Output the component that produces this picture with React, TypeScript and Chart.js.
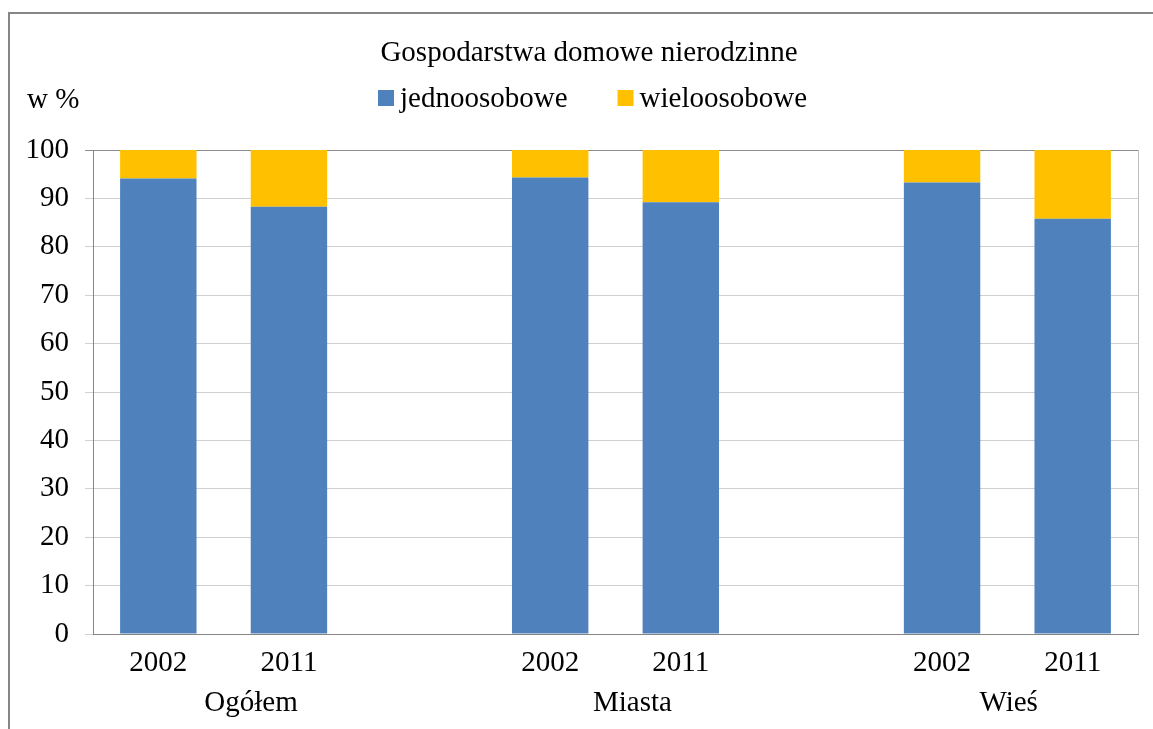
import React, { useEffect, useRef } from "react";
import { Chart, registerables } from "chart.js";

Chart.register(...registerables);

const title = "Gospodarstwa domowe nierodzinne";
const unitLabel = "w %";
const categories = ["2002", "2011", "", "2002", "2011", "", "2002", "2011"];
const seriesNames = ["jednoosobowe", "wieloosobowe"];
const seriesColors = ["#4F81BD", "#FFC000"];
const jednoosobowe = [94.1, 88.3, null, 94.3, 89.2, null, 93.3, 85.8];
const wieloosobowe = [5.9, 11.7, null, 5.7, 10.8, null, 6.7, 14.2];
const groupLabels = ["Ogółem", "Miasta", "Wieś"];
const groupPositions = [0.71, 3.63, 6.51];
const yTicks = [0, 10, 20, 30, 40, 50, 60, 70, 80, 90, 100];

const FONT = "'Liberation Serif', 'Times New Roman', serif";
const FS = 29;

const headerPlugin = {
  id: "header",
  afterDraw(chart: any) {
    const ctx = chart.ctx;
    ctx.save();
    ctx.fillStyle = "#000";
    ctx.font = `${FS}px ${FONT}`;
    ctx.textBaseline = "alphabetic";
    ctx.textAlign = "center";
    ctx.fillText(title, 589, 61);
    ctx.textAlign = "left";
    ctx.fillText(unitLabel, 27, 108);
    // legend
    let x = 378;
    const box = 16;
    chart.data.datasets.forEach((ds: any) => {
      ctx.fillStyle = ds.backgroundColor;
      ctx.fillRect(x, 90, box, box);
      x += box + 6;
      ctx.fillStyle = "#000";
      ctx.fillText(ds.label, x, 107);
      x += ctx.measureText(ds.label).width + 50;
    });
    // group labels
    const xs = chart.scales.x;
    ctx.textAlign = "center";
    groupLabels.forEach((g, i) => {
      ctx.fillText(g, xs.getPixelForValue(groupPositions[i]), 711);
    });
    // plot area right edge
    const a = chart.chartArea;
    ctx.strokeStyle = "#bfbfbf";
    ctx.lineWidth = 1;
    ctx.beginPath();
    ctx.moveTo(Math.round(a.right) + 0.5, a.top);
    ctx.lineTo(Math.round(a.right) + 0.5, a.bottom);
    ctx.stroke();
    ctx.restore();
  },
};

export default function App() {
  const ref = useRef<HTMLCanvasElement>(null);
  useEffect(() => {
    if (!ref.current) return;
    const chart = new Chart(ref.current, {
      type: "bar",
      data: {
        labels: categories,
        datasets: [
          {
            label: seriesNames[0],
            data: jednoosobowe as any,
            backgroundColor: seriesColors[0],
            barPercentage: 0.585,
            categoryPercentage: 1,
          },
          {
            label: seriesNames[1],
            data: wieloosobowe as any,
            backgroundColor: seriesColors[1],
            barPercentage: 0.585,
            categoryPercentage: 1,
          },
        ],
      },
      options: {
        responsive: false,
        animation: false,
        devicePixelRatio: 1,
        layout: { padding: { top: 150, right: 15, left: 0, bottom: 0 } },
        plugins: {
          legend: { display: false },
          title: { display: false },
          tooltip: { enabled: false },
        },
        scales: {
          x: {
            stacked: true,
            grid: { display: false, drawTicks: false },
            border: { display: true, color: "#868686", width: 1 },
            ticks: {
              color: "#000",
              font: { family: FONT, size: FS },
              padding: 12,
              maxRotation: 0,
              autoSkip: false,
            },
            afterFit(scale: any) {
              scale.height = 95;
            },
          },
          y: {
            stacked: true,
            min: 0,
            max: 100,
            afterBuildTicks(scale: any) {
              scale.ticks = yTicks.map((v) => ({ value: v }));
            },
            grid: {
              color: (c: any) => (c.tick && c.tick.value === 100 ? "#8c8c8c" : "#d0d0d0"),
              tickLength: 8,
              drawTicks: true,
            },
            border: { display: true, color: "#868686", width: 1 },
            ticks: {
              color: "#000",
              font: { family: FONT, size: FS },
              padding: 16,
            },
            afterFit(scale: any) {
              scale.width = 93;
            },
          },
        },
      },
      plugins: [headerPlugin],
    });
    return () => chart.destroy();
  }, []);
  return (
    <div
      style={{
        position: "fixed",
        left: 0,
        top: 0,
        width: 1153,
        height: 729,
        overflow: "hidden",
        background: "#fff",
      }}
    >
      <div
        style={{
          position: "absolute",
          left: 8,
          top: 12,
          width: 1400,
          height: 1000,
          border: "2px solid #868686",
        }}
      />
      <canvas
        ref={ref}
        width={1153}
        height={729}
        style={{ position: "absolute", left: 0, top: 0, width: 1153, height: 729 }}
      />
    </div>
  );
}
